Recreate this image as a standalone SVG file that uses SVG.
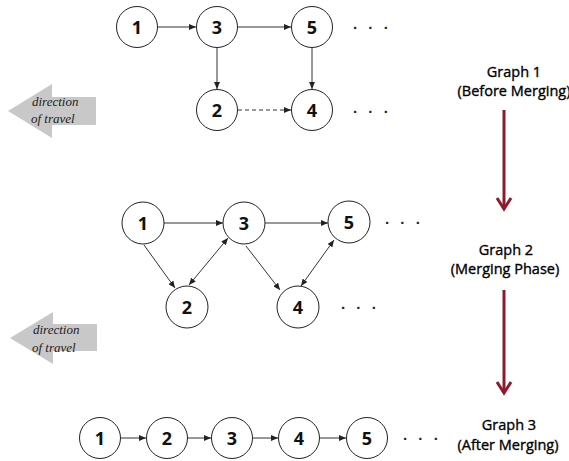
<svg xmlns="http://www.w3.org/2000/svg" width="569" height="461" viewBox="0 0 569 461">
<style>
.node circle{fill:#fff;stroke:#222;stroke-width:1}
.node text{font-family:"Open Sans","Liberation Sans",sans-serif;font-weight:700;font-size:18px;fill:#111;text-anchor:middle;dominant-baseline:central}
.edge{stroke:#333;stroke-width:1;fill:none}
.dash{stroke-dasharray:4 3}
.dots{font-family:"Liberation Sans",sans-serif;font-size:15px;font-weight:700;fill:#222;letter-spacing:3.5px}
.lbl{font-family:"Open Sans","Liberation Sans",sans-serif;font-size:14.5px;fill:#000;stroke:#000;stroke-width:0.35;text-anchor:middle}
.dir{fill:#c8c8c8}
.dirt{font-family:"Liberation Serif",serif;font-style:italic;font-size:13px;fill:#222}
.red{stroke:#8e1b2c;stroke-width:3;fill:none}
</style>
<defs>
<marker id="ah" markerWidth="7" markerHeight="6" refX="7" refY="3" orient="auto" markerUnits="userSpaceOnUse">
<path d="M0,0 L7,3 L0,6 Z" fill="#222"/>
</marker>
<marker id="as" markerWidth="7" markerHeight="6" refX="0" refY="3" orient="auto" markerUnits="userSpaceOnUse">
<path d="M7,0 L0,3 L7,6 Z" fill="#222"/>
</marker>
</defs>

<g id="connectors">
<line class="edge" x1="158" y1="27" x2="196" y2="27" marker-end="url(#ah)"/>
<line class="edge" x1="238" y1="27" x2="291" y2="27" marker-end="url(#ah)"/>
<line class="edge" x1="217" y1="48" x2="217" y2="89" marker-end="url(#ah)"/>
<line class="edge" x1="312" y1="48" x2="312" y2="89" marker-end="url(#ah)"/>
<line class="edge dash" x1="238" y1="110" x2="291" y2="110" marker-end="url(#ah)"/>
<line class="edge" x1="164" y1="223" x2="223" y2="223" marker-end="url(#ah)"/>
<line class="edge" x1="265" y1="223" x2="328" y2="223" marker-end="url(#ah)"/>
<line class="edge" x1="144" y1="245" x2="175" y2="288" marker-end="url(#ah)"/>
<line class="edge" x1="228" y1="238" x2="189" y2="285" marker-start="url(#as)" marker-end="url(#ah)"/>
<line class="edge" x1="246" y1="246" x2="280" y2="290" marker-end="url(#ah)"/>
<line class="edge" x1="334" y1="240" x2="301" y2="286" marker-start="url(#as)" marker-end="url(#ah)"/>
<line class="edge" x1="121" y1="438" x2="146" y2="438" marker-end="url(#ah)"/>
<line class="edge" x1="188" y1="438" x2="211" y2="438" marker-end="url(#ah)"/>
<line class="edge" x1="253" y1="438" x2="278" y2="438" marker-end="url(#ah)"/>
<line class="edge" x1="320" y1="438" x2="346" y2="438" marker-end="url(#ah)"/>
<line class="red" x1="504" y1="110" x2="504" y2="209"/>
<polyline class="red" points="497,198 504,209 511,198"/>
<line class="red" x1="504" y1="290" x2="504" y2="393"/>
<polyline class="red" points="497,382 504,393 511,382"/>
</g>

<g id="g1-n1" class="node"><circle cx="137" cy="27" r="20.5"/><text x="137" y="27">1</text></g>
<g id="g1-n3" class="node"><circle cx="217" cy="27" r="20.5"/><text x="217" y="27">3</text></g>
<g id="g1-n5" class="node"><circle cx="312" cy="27" r="20.5"/><text x="312" y="27">5</text></g>
<g id="g1-n2" class="node"><circle cx="217" cy="110" r="20.5"/><text x="217" y="110">2</text></g>
<g id="g1-n4" class="node"><circle cx="312" cy="110" r="20.5"/><text x="312" y="110">4</text></g>
<text class="dots" x="353" y="29">. . .</text>
<text class="dots" x="353" y="113">. . .</text>

<g id="g2-n1" class="node"><circle cx="143" cy="223" r="21"/><text x="143" y="223">1</text></g>
<g id="g2-n3" class="node"><circle cx="244" cy="223" r="21"/><text x="244" y="223">3</text></g>
<g id="g2-n5" class="node"><circle cx="349" cy="222" r="21"/><text x="349" y="222">5</text></g>
<g id="g2-n2" class="node"><circle cx="187" cy="307" r="21"/><text x="187" y="307">2</text></g>
<g id="g2-n4" class="node"><circle cx="298" cy="307" r="21"/><text x="298" y="307">4</text></g>
<text class="dots" x="385" y="224">. . .</text>
<text class="dots" x="341" y="309">. . .</text>

<g id="g3-n1" class="node"><circle cx="100" cy="438" r="20.5"/><text x="100" y="438">1</text></g>
<g id="g3-n2" class="node"><circle cx="167" cy="438" r="20.5"/><text x="167" y="438">2</text></g>
<g id="g3-n3" class="node"><circle cx="232" cy="438" r="20.5"/><text x="232" y="438">3</text></g>
<g id="g3-n4" class="node"><circle cx="299" cy="438" r="20.5"/><text x="299" y="438">4</text></g>
<g id="g3-n5" class="node"><circle cx="367" cy="438" r="20.5"/><text x="367" y="438">5</text></g>
<text class="dots" x="403" y="440">. . .</text>

<g id="dir1">
<polygon class="dir" points="8,111 52,84 52,97 96,97 96,125 52,125 52,138"/>
<text class="dirt" x="32" y="106">direction</text>
<text class="dirt" x="31" y="123">of travel</text>
</g>
<g id="dir2">
<polygon class="dir" points="10,338 53,312 53,324 97,324 97,351 53,351 53,364"/>
<text class="dirt" x="33" y="334">direction</text>
<text class="dirt" x="32" y="352">of travel</text>
</g>

<g id="label1"><text class="lbl" x="514" y="77">Graph 1</text><text class="lbl" x="514" y="96">(Before Merging)</text></g>
<g id="label2"><text class="lbl" x="506" y="255">Graph 2</text><text class="lbl" x="505" y="274">(Merging Phase)</text></g>
<g id="label3"><text class="lbl" x="509" y="430">Graph 3</text><text class="lbl" x="508" y="450">(After Merging)</text></g>
</svg>
